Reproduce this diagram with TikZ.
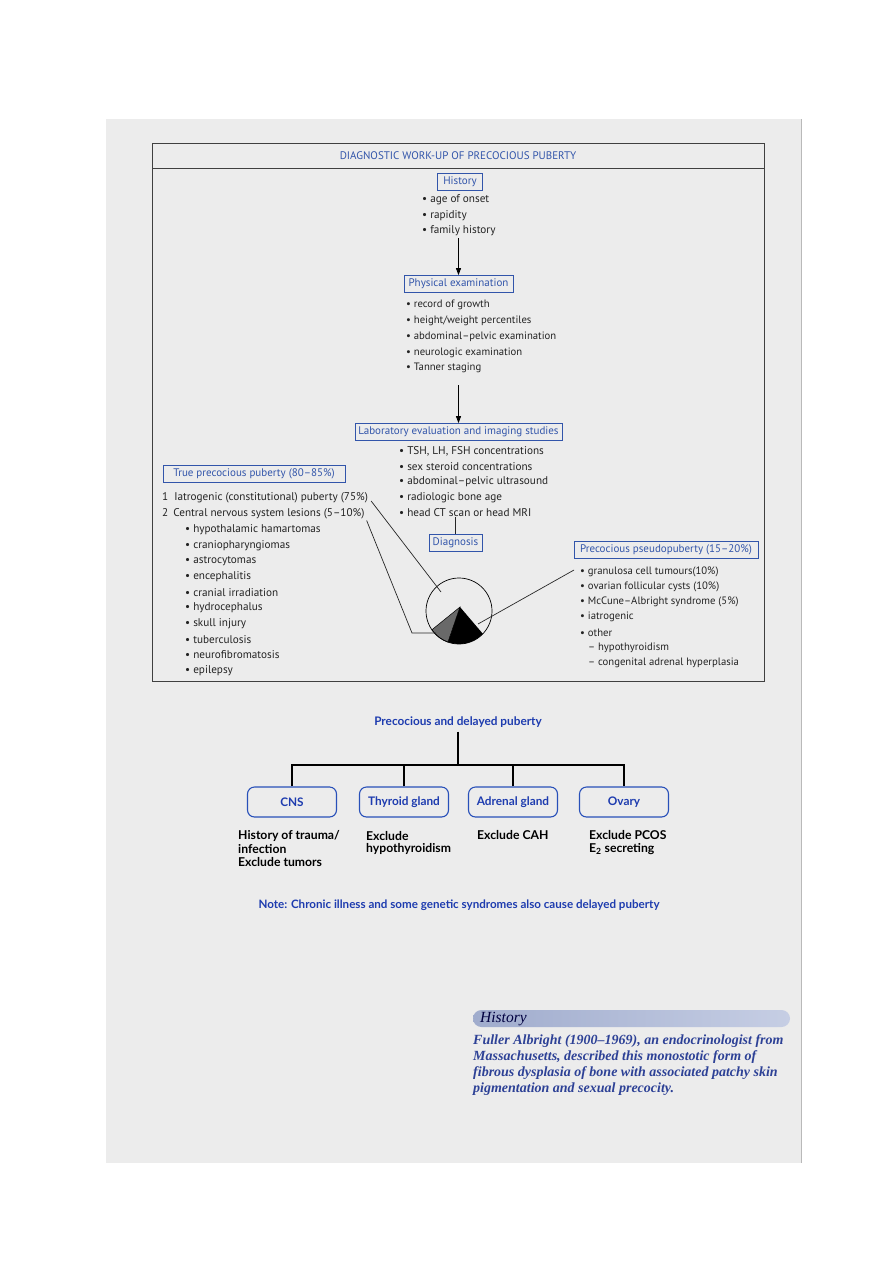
\documentclass[tikz,border=0pt]{standalone}
\usepackage{fontspec}
\setmainfont{PT Sans}
\newfontfamily\lowfont{Lato}
\newfontfamily\serifit{Liberation Serif}
\usetikzlibrary{arrows.meta,calc}
\definecolor{panelgray}{RGB}{236,236,236}
\definecolor{edgegray}{RGB}{185,185,185}
\definecolor{fblue}{RGB}{50,85,170}
\definecolor{ftext}{RGB}{35,35,35}
\definecolor{lblue}{RGB}{30,60,175}
\definecolor{boxblue}{RGB}{40,80,185}
\definecolor{hblue}{RGB}{45,65,150}
\definecolor{bandL}{RGB}{160,172,205}
\definecolor{bandR}{RGB}{198,206,228}
\definecolor{wedgegray}{RGB}{105,105,105}
\tikzset{
  flowbox/.style={draw=fblue, line width=0.7pt, text=fblue, font=\fontsize{11}{12}\selectfont, inner sep=0pt, minimum height=17pt},
  listitem/.style={anchor=west, inner sep=0pt, text=ftext, font=\fontsize{11.2}{12}\selectfont},
  smallitem/.style={listitem, font=\fontsize{10.7}{12}\selectfont},
  arr/.style={-{Triangle[length=7pt,width=5pt]}, line width=0.8pt, black},
  conn/.style={line width=0.7pt, black!85},
  lowbox/.style={draw=boxblue, line width=1.1pt, rounded corners=7pt, minimum width=89pt, minimum height=30pt, text=lblue, font=\lowfont\bfseries\fontsize{11.8}{13}\selectfont, inner sep=0pt},
  lowtxt/.style={anchor=west, inner sep=0pt, text=black, font=\lowfont\bfseries\fontsize{12.2}{13}\selectfont},
  barline/.style={line width=2.8pt, black},
  histtxt/.style={anchor=west, inner sep=0pt, text=hblue, font=\serifit\itshape\bfseries\fontsize{14}{15}\selectfont}
}
\begin{document}
\begin{tikzpicture}[x=1pt,y=-1pt]
\useasboundingbox (0,0) rectangle (893,1263);
\fill[white] (0,0) rectangle (893,1263);
\fill[panelgray] (106,119) rectangle (801,1163);
\draw[edgegray, line width=0.8pt] (801,119) -- (801,1163);

% outer frame
\draw[line width=0.8pt, black!75] (152,143) rectangle (764,681);
\draw[line width=0.8pt, black!75] (152,168) -- (764,168);
\node[font=\fontsize{11}{12}\selectfont, text=fblue, inner sep=0pt] (title) at (458,156) {DIAGNOSTIC WORK-UP OF PRECOCIOUS PUBERTY};

% history
\node[flowbox, minimum width=45pt] (hbox) at (460,182) {History};
\foreach \t [count=\i] in {age of onset, rapidity, family history}
  \node[listitem] (h\i) at (422,{200+15.5*(\i-1)}) {• \t};

% physical examination
\node[flowbox, minimum width=109pt] (pbox) at (458.5,284) {Physical examination};
\foreach \t [count=\i] in {record of growth, height/weight percentiles, abdominal–pelvic examination, neurologic examination, Tanner staging}
  \node[smallitem] (p\i) at (406,{305+15.8*(\i-1)}) {• \t};

% laboratory
\node[flowbox, minimum width=207pt] (lbox) at (458.5,432) {Laboratory evaluation and imaging studies};
\foreach \t [count=\i] in {{TSH, LH, FSH concentrations}, sex steroid concentrations, abdominal–pelvic ultrasound, radiologic bone age, head CT scan or head MRI}
  \node[listitem] (l\i) at (399,{451+15.5*(\i-1)}) {• \t};

\node[flowbox, minimum width=53pt] (dbox) at (455.5,542.5) {Diagnosis};

% true precocious puberty
\node[flowbox, minimum width=182pt] (tbox) at (254,474) {True precocious puberty (80–85\%)};
\node[listitem] (t1) at (162,498) {1\hspace{6pt}Iatrogenic (constitutional) puberty (75\%)};
\node[listitem] (t2) at (162,513.5) {2\hspace{5pt}Central nervous system lesions (5–10\%)};
\foreach \t [count=\i] in {hypothalamic hamartomas, craniopharyngiomas, astrocytomas, encephalitis, cranial irradiation, hydrocephalus, skull injury, tuberculosis, neurofibromatosis, epilepsy}
  \node[listitem] (c\i) at (185,{530+15.6*(\i-1)}) {• \t};

% pseudopuberty
\node[flowbox, minimum width=184pt] (sbox) at (666,550) {Precocious pseudopuberty (15–20\%)};
\foreach \t [count=\i] in {granulosa cell tumours(10\%), ovarian follicular cysts (10\%), McCune–Albright syndrome (5\%), iatrogenic, other}
  \node[smallitem] (s\i) at (580,{572+15.1*(\i-1)}) {• \t};
\node[smallitem] (s6) at (588,648) {– hypothyroidism};
\node[smallitem] (s7) at (588,663) {– congenital adrenal hyperplasia};

% pie
\begin{scope}[shift={(459,611)}, x=1pt, y=1pt]
  \fill[wedgegray, draw=black, line width=0.5pt] (1,4) -- (214.7:33) arc[start angle=214.7, end angle=250.5, radius=33] -- cycle;
  \fill[black] (1,4) -- (250.5:33) arc[start angle=250.5, end angle=316.3, radius=33] -- cycle;
\end{scope}
\node[circle, draw, line width=0.7pt, minimum size=66pt, inner sep=0pt] (pie) at (459,611) {};

% connectors to pie
\coordinate (q1) at (441,592);
\coordinate (k2) at (412,633);
\coordinate (q2) at (436,633);
\coordinate (q3) at (478,624);
\draw[conn] ($(t1.east)+(3,3)$) -- (q1);
\draw[conn] ($(t2.east)+(2,7)$) -- (k2) -- (q2);
\draw[conn] ($(s1.west)+(-6,-2)$) -- (q3);

% arrows
\draw[arr] ($(pbox.north |- h3.south)+(0,2)$) -- (pbox.north);
\draw[arr] ($(pbox.north |- p5.south)+(0,12)$) -- (lbox.north);
\draw[conn] (dbox.north |- l5.south) -- (dbox.north);

% lower section
\node[text=lblue, font=\lowfont\bfseries\fontsize{11.8}{13}\selectfont, inner sep=0pt] (ptitle) at (458,722) {Precocious and delayed puberty};
\coordinate (junc) at (457,765);
\node[lowbox] (cns) at (292,802) {CNS};
\node[lowbox] (thy) at (404,802) {Thyroid gland};
\node[lowbox] (adr) at (513,802) {Adrenal gland};
\node[lowbox] (ova) at (624,802) {Ovary};
\draw[barline, shorten <=4pt] (ptitle.south) -- (ptitle.south |- junc);
\draw[barline] (cns.north) -- (cns.north |- junc) -- (ova.north |- junc) -- (ova.north);
\draw[barline] (thy.north) -- (thy.north |- junc);
\draw[barline] (adr.north) -- (adr.north |- junc);

\node[lowtxt] (ct1) at (238,836) {History of trauma/};
\node[lowtxt] (ct2) at (238,849) {infection};
\node[lowtxt] (ct3) at (238,862) {Exclude tumors};
\node[lowtxt] (tt1) at (366,836) {Exclude};
\node[lowtxt] (tt2) at (366,849) {hypothyroidism};
\node[lowtxt] (at1) at (477,835) {Exclude CAH};
\node[lowtxt] (ot1) at (589,835) {Exclude PCOS};
\node[lowtxt] (ot2) at (589,849) {E\textsubscript{2} secreting};
\node[text=lblue, font=\lowfont\bfseries\fontsize{11.6}{13}\selectfont, inner sep=0pt] (note) at (459,905) {Note: Chronic illness and some genetic syndromes also cause delayed puberty};

% history box
\node[left color=bandL, right color=bandR, rounded corners=8.5pt, minimum width=317pt, minimum height=17pt, inner sep=0pt] (band) at (631.5,1018.5) {};
\node[anchor=west, text=black!75!blue, font=\serifit\itshape\fontsize{15.5}{16}\selectfont, inner sep=0pt] (htitle) at (480,1019) {History};
\node[histtxt] (hp1) at (473,1041) {Fuller Albright (1900–1969), an endocrinologist from};
\node[histtxt] (hp2) at (473,1057) {Massachusetts, described this monostotic form of};
\node[histtxt] (hp3) at (473,1073) {fibrous dysplasia of bone with associated patchy skin};
\node[histtxt] (hp4) at (473,1089) {pigmentation and sexual precocity.};
\end{tikzpicture}
\end{document}
